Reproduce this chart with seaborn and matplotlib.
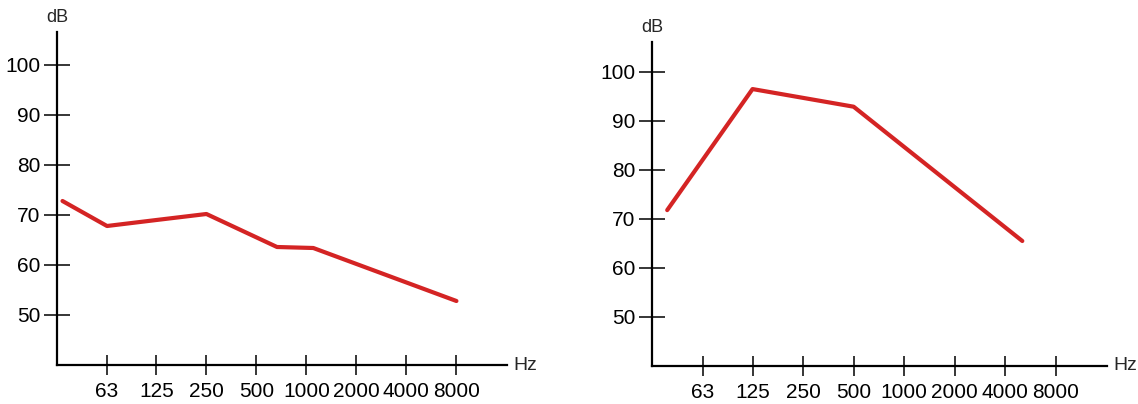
import matplotlib
matplotlib.use("Agg")
import matplotlib.pyplot as plt
import seaborn as sns

# bandas de oitava (Hz) e rótulos do eixo x
bandas = [63, 125, 250, 500, 1000, 2000, 4000, 8000]
rotulos_x = ["63", "125", "250", "500", "1000", "2000", "4000", "8000"]
niveis_y = [50, 60, 70, 80, 90, 100]

# espectro da esquerda
freq_esq = [34, 63, 125, 250, 665, 1100, 8000]
db_esq = [72.8, 67.8, 69.0, 70.2, 63.6, 63.4, 52.8]

# espectro da direita
freq_dir = [38.8, 125, 500, 5050]
db_dir = [71.8, 96.5, 92.9, 65.5]

sns.set_style("white")
plt.rcParams["font.family"] = ["Liberation Sans", "DejaVu Sans"]

VERMELHO = "#d42424"
W, H = 1138, 404

fig = plt.figure(figsize=(W / 100, H / 100), dpi=100)
ax_esq = fig.add_axes([57 / W, 39 / H, 450 / W, 333 / H])
ax_dir = fig.add_axes([652 / W, 38 / H, 455 / W, 324 / H])


def desenhar(ax, freq, db, ytop):
    sns.lineplot(x=freq, y=db, ax=ax, color=VERMELHO, linewidth=3.0)
    ax.set_xscale("log", base=2)
    ax.set_xlim(31.5, 31.5 * 2 ** 9)
    ax.set_ylim(40, ytop)
    ax.set_xticks(bandas, rotulos_x)
    ax.minorticks_off()
    ax.set_yticks(niveis_y)
    for lado in ["top", "right"]:
        ax.spines[lado].set_visible(False)
    for lado in ["left", "bottom"]:
        ax.spines[lado].set_linewidth(1.6)
        ax.spines[lado].set_color("black")
    ax.tick_params(axis="y", left=True, direction="inout", length=19,
                   width=1.1, pad=2.5, labelsize=15, colors="black")
    ax.tick_params(axis="x", bottom=True, direction="inout", length=14,
                   width=1.1, pad=5, labelsize=15, colors="black")
    ax.set_xlabel("")
    ax.set_ylabel("")
    ax.text(1.015, 0, "Hz", transform=ax.transAxes, ha="left", va="center",
            fontsize=14)
    ax.annotate("dB", xy=(0, 1), xycoords="axes fraction", xytext=(0, 4),
                textcoords="offset points", ha="center", va="bottom",
                fontsize=13)


desenhar(ax_esq, freq_esq, db_esq, 106.6)
desenhar(ax_dir, freq_dir, db_dir, 106.1)

fig.savefig("out.png", dpi=100)
